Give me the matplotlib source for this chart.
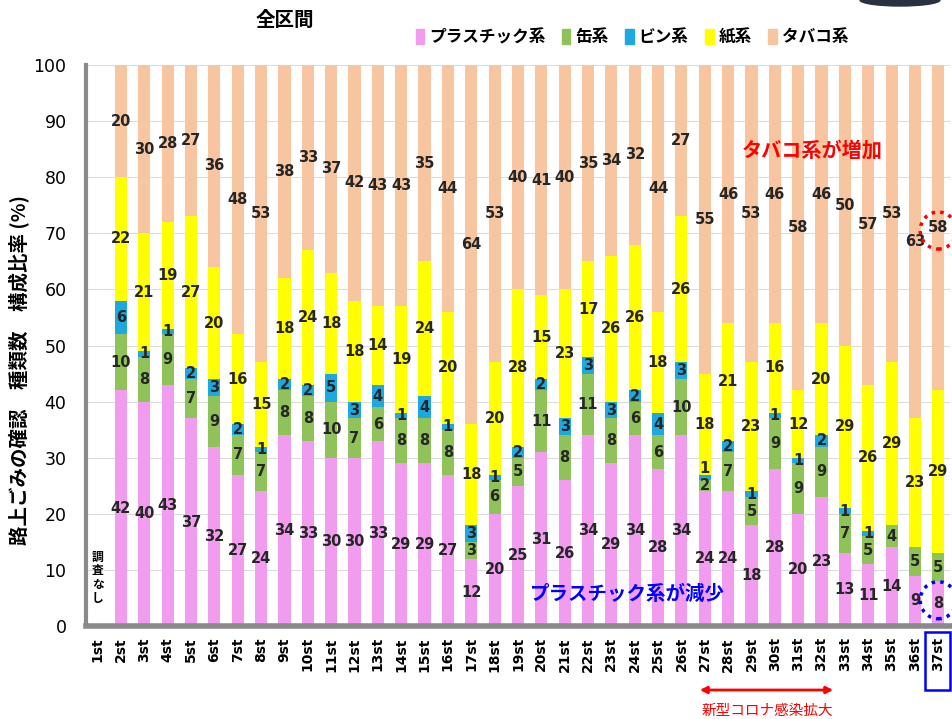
import numpy as np
import matplotlib
matplotlib.use("Agg")
import matplotlib.pyplot as plt
from matplotlib.patches import Patch, Ellipse, Rectangle, FancyArrowPatch

plt.rcParams['font.family'] = ['Noto Sans CJK JP', 'DejaVu Sans']

# survey rounds (1st had no survey)
rounds = [f"{i}st" for i in range(1, 38)]

# composition ratio by litter type (%)
plastic = [0, 42, 40, 43, 37, 32, 27, 24, 34, 33, 30, 30, 33, 29, 29, 27, 12, 20, 25,
           31, 26, 34, 29, 34, 28, 34, 24, 24, 18, 28, 20, 23, 13, 11, 14, 9, 8]
cans = [0, 10, 8, 9, 7, 9, 7, 7, 8, 8, 10, 7, 6, 8, 8, 8, 3, 6, 5,
        11, 8, 11, 8, 6, 6, 10, 2, 7, 5, 9, 9, 9, 7, 5, 4, 5, 5]
bottles = [0, 6, 1, 1, 2, 3, 2, 1, 2, 2, 5, 3, 4, 1, 4, 1, 3, 1, 2,
           2, 3, 3, 3, 2, 4, 3, 1, 2, 1, 1, 1, 2, 1, 1, 0, 0, 0]
paper = [0, 22, 21, 19, 27, 20, 16, 15, 18, 24, 18, 18, 14, 19, 24, 20, 18, 20, 28,
         15, 23, 17, 26, 26, 18, 26, 18, 21, 23, 16, 12, 20, 29, 26, 29, 23, 29]
tobacco = [0, 20, 30, 28, 27, 36, 48, 53, 38, 33, 37, 42, 43, 43, 35, 44, 64, 53, 40,
           41, 40, 35, 34, 32, 44, 27, 55, 46, 53, 46, 58, 46, 50, 57, 53, 63, 58]

series = [
    ("プラスチック系", plastic, "#f29cf0"),
    ("缶系", cans, "#8fc35a"),
    ("ビン系", bottles, "#1ea8e0"),
    ("紙系", paper, "#ffff00"),
    ("タバコ系", tobacco, "#f7c59f"),
]

fig = plt.figure(figsize=(9.53, 7.19), dpi=100)
ax = fig.add_axes([0.0902, 0.1293, 0.9066, 0.7803])

x = np.arange(len(rounds))
bottom = np.zeros(len(rounds))
last_label = np.full(len(rounds), -10.0)
for name, vals, color in series:
    vals = np.array(vals, dtype=float)
    ax.bar(x, vals, width=0.52, bottom=bottom, color=color, label=name, zorder=2)
    for i, (xi, b, v) in enumerate(zip(x, bottom, vals)):
        if v > 0:
            y = b + v / 2
            # keep labels of thin neighbouring segments apart
            if y - last_label[i] < 3:
                y = last_label[i] + 3
            last_label[i] = y
            ax.text(xi, y, f"{int(v)}", ha="center", va="center",
                    fontsize=10.5, fontweight="bold", color="#262626",
                    family="DejaVu Sans", zorder=4)
    bottom += vals

ax.set_xlim(-0.5, 36.5)
ax.set_ylim(0, 100)
ax.set_yticks(np.arange(0, 101, 10))
ax.set_xticks(x)
ax.set_xticklabels(rounds, rotation=90, fontsize=10, fontweight="bold",
                   family="DejaVu Sans")
for lbl in ax.get_yticklabels():
    lbl.set_family("DejaVu Sans")
ax.tick_params(axis="x", length=0, pad=8)
ax.tick_params(axis="y", length=0, pad=14, labelsize=12.5)
ax.grid(axis="y", color="#dcdcdc", linewidth=0.8, zorder=0)
for side in ("top", "right"):
    ax.spines[side].set_visible(False)
ax.spines["left"].set_linewidth(3)
ax.spines["left"].set_color("#8a8a8a")
ax.spines["bottom"].set_linewidth(4)
ax.spines["bottom"].set_color("#8a8a8a")

fig.text(20 / 953, 1 - 370 / 719, "路上ごみの確認　種類数　構成比率 (%)", rotation=90,
         ha="center", va="center", fontsize=14, fontweight="bold")

# no survey in the first round
ax.text(0, 8.6, "調\n査\nな\nし", ha="center", va="center", fontsize=8.5,
        fontweight="bold", linespacing=1.1)

fig.text(285 / 953, 1 - 20 / 719, "全区間", ha="center", va="center",
         fontsize=14, fontweight="bold")

handles = [Patch(color=c, label=n) for n, _, c in series]
fig.legend(handles=handles, loc="center", bbox_to_anchor=(632 / 953, 1 - 37 / 719),
           ncol=5, frameon=False, handlelength=0.5, handleheight=1.0,
           handletextpad=0.3, columnspacing=1.0,
           prop={"size": 12, "weight": "bold"})

# highlights on the latest round
ax.text(30.6, 84.8, "タバコ系が増加", color="#ff0000", fontsize=14.5,
        fontweight="bold", ha="center", va="center")
ax.text(22.7, 5.7, "プラスチック系が減少", color="#0000ff", fontsize=14,
        fontweight="bold", ha="center", va="center")
ax.add_patch(Ellipse((36, 70.5), 1.55, 6.6, fill=False, edgecolor="#ff0000",
                     linestyle=(0, (1, 1.5)), linewidth=2.5, clip_on=False, zorder=5))
ax.add_patch(Ellipse((36, 4.6), 1.55, 6.6, fill=False, edgecolor="#0000ff",
                     linestyle=(0, (1, 1.5)), linewidth=2.5, clip_on=False, zorder=5))
fig.add_artist(Rectangle((925 / 953, 1 - 690 / 719), 25 / 953, 58 / 719, fill=False,
                         edgecolor="#0000ff", linewidth=1.8, transform=fig.transFigure))

# period of the coronavirus spread
fig.add_artist(FancyArrowPatch(
    (697 / 953, 1 - 690 / 719), (836 / 953, 1 - 690 / 719), arrowstyle="<|-|>",
    mutation_scale=10, color="#ff0000", linewidth=2, transform=fig.transFigure))
fig.text(767 / 953, 1 - 711 / 719, "新型コロナ感染拡大", color="#ff0000",
         ha="center", va="center", fontsize=10.5)

fig.add_artist(Ellipse((900 / 953, 1.0), 80 / 953, 12 / 719, color="#2a3140",
                       transform=fig.transFigure))

fig.savefig("out.png", dpi=100)
